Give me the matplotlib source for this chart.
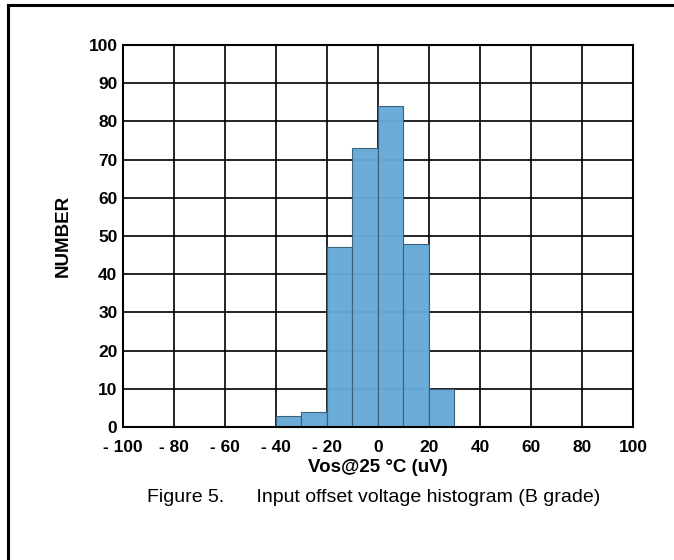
import matplotlib.pyplot as plt
from matplotlib.lines import Line2D
from matplotlib import font_manager

# histogram data
bin_left = [-40, -30, -20, -10, 0, 10, 20]
counts = [3, 4, 47, 73, 84, 48, 10]
bin_width = 10

x_ticks = [-100, -80, -60, -40, -20, 0, 20, 40, 60, 80, 100]
x_labels = ["- 100", "- 80", "- 60", "- 40", "- 20", "0", "20", "40", "60", "80", "100"]
y_ticks = list(range(0, 101, 10))

names = {f.name for f in font_manager.fontManager.ttflist}
narrow = "Liberation Sans Narrow" if "Liberation Sans Narrow" in names else "Liberation Sans"

plt.rcParams['font.family'] = [narrow, 'DejaVu Sans']

fig = plt.figure(figsize=(6.74, 5.6), dpi=100)
ax = fig.add_axes([0.1825, 0.2375, 0.7565, 0.682])

ax.bar(bin_left, counts, width=bin_width, align="edge", color="#66aad8",
       edgecolor="#3a5f7a", linewidth=0.8, zorder=3, alpha=0.97)

ax.set_xlim(-100, 100)
ax.set_ylim(0, 100)
ax.set_xticks(x_ticks)
ax.set_xticklabels(x_labels)
ax.set_yticks(y_ticks)
ax.grid(True, color="black", linewidth=1.2, zorder=1)
ax.set_axisbelow(False)
for s in ax.spines.values():
    s.set_linewidth(1.5)
    s.set_zorder(4)
ax.tick_params(length=0, labelsize=12.5)
ax.tick_params(axis="x", pad=9)
ax.tick_params(axis="y", pad=4)
for lbl in ax.get_xticklabels() + ax.get_yticklabels():
    lbl.set_fontweight("bold")

ax.set_xlabel("Vos@25 °C (uV)", fontsize=13.5, fontweight="bold", labelpad=3)
ax.set_ylabel("NUMBER", fontsize=13.5, fontweight="bold", labelpad=12)

fig.text(0.555, 0.111, "Figure 5.      Input offset voltage histogram (B grade)",
         ha="center", va="center", fontsize=14)

# outer frame (left and top edges only visible)
fig.add_artist(Line2D([8 / 674, 8 / 674], [0, 1 - 5 / 560], transform=fig.transFigure,
                      color="black", linewidth=2.2))
fig.add_artist(Line2D([8 / 674, 1], [1 - 5 / 560, 1 - 5 / 560], transform=fig.transFigure,
                      color="black", linewidth=2.2))

fig.savefig("out.png", dpi=100)
